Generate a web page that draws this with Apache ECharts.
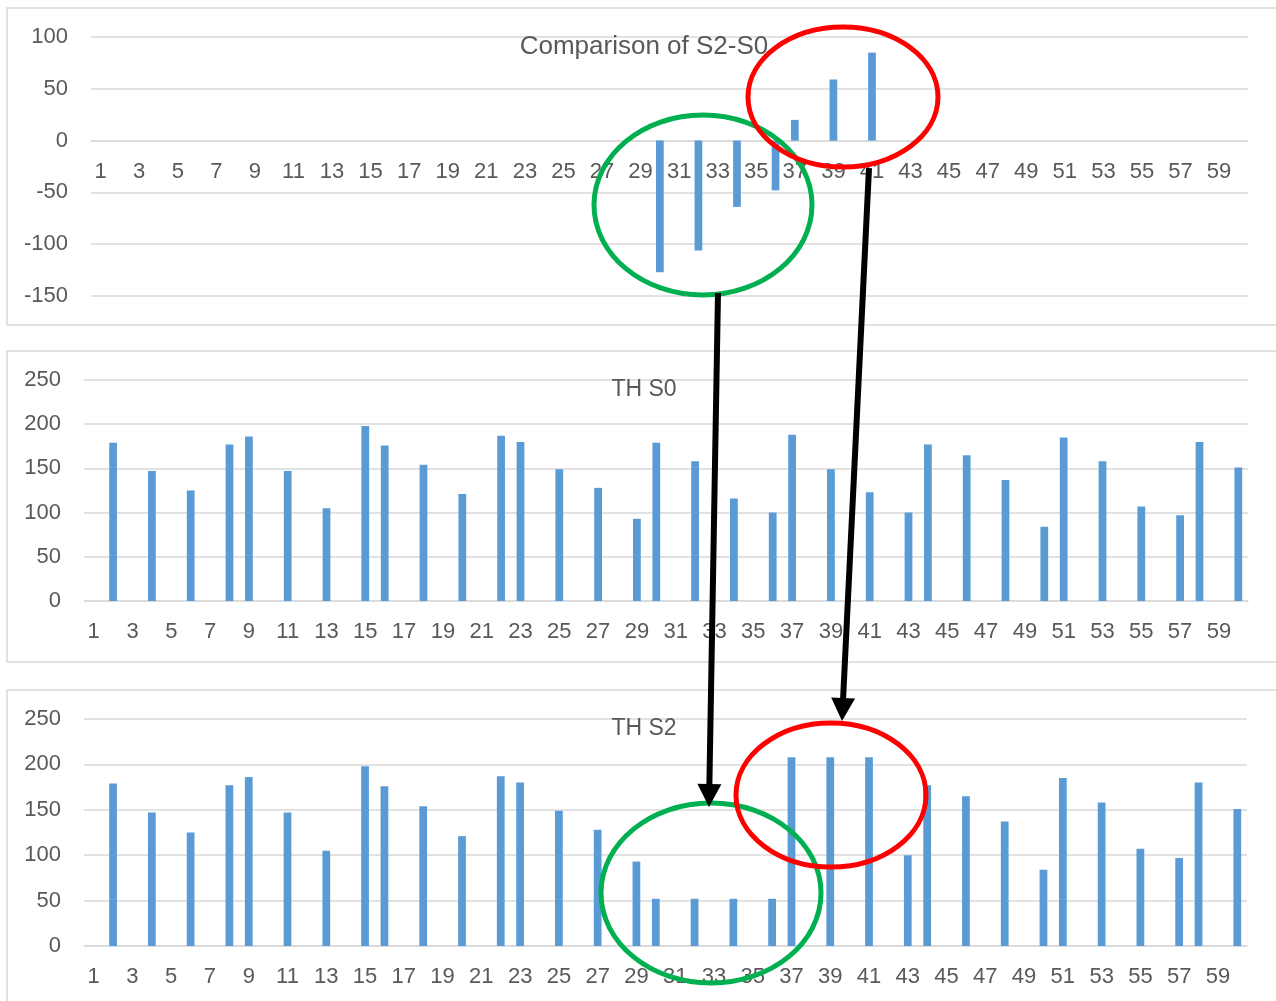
<!DOCTYPE html>
<html>
<head>
<meta charset="utf-8">
<script src="https://cdn.jsdelivr.net/npm/echarts@6/dist/echarts.min.js"></script>
<style>
html,body{margin:0;padding:0;background:#fff;}
#main{width:1276px;height:1001px;}
</style>
</head>
<body>
<div id="main"></div>
<script>
// ---- data ----
var categories = ['1','2','3','4','5','6','7','8','9','10','11','12','13','14','15','16','17','18','19','20',
  '21','22','23','24','25','26','27','28','29','30','31','32','33','34','35','36','37','38','39','40',
  '41','42','43','44','45','46','47','48','49','50','51','52','53','54','55','56','57','58','59','60'];

var diffS2S0 = [null,null,null,null,null,null,null,null,null,null,
  null,null,null,null,null,null,null,null,null,null,
  null,null,null,null,null,null,null,null,null,-127,
  null,-106,null,-64,null,-48,20,null,59,null,
  85,null,null,null,null,null,null,null,null,null,
  null,null,null,null,null,null,null,null,null,null];

var thS0 = [null,179,null,147,null,125,null,177,186,null,
  147,null,105,null,198,176,null,154,null,121,
  null,187,180,null,149,null,128,null,93,179,
  null,158,null,116,null,100,188,null,149,null,
  123,null,100,177,null,165,null,137,null,84,
  185,null,158,null,107,null,97,180,null,151];

var thS2 = [null,179,null,147,null,125,null,177,186,null,
  147,null,105,null,198,176,null,154,null,121,
  null,187,180,null,149,null,128,null,93,52,
  null,52,null,52,null,52,208,null,208,null,
  208,null,100,177,null,165,null,137,null,84,
  185,null,158,null,107,null,97,180,null,151];

var titles = ['Comparison of S2-S0', 'TH S0', 'TH S2'];

// ---- styling ----
var FONT = 'Liberation Sans, Arial, sans-serif';
var TXT = '#595959';
var GRIDC = '#D9D9D9';
var BAR = '#5B9BD5';

var chart = echarts.init(document.getElementById('main'), null, {renderer:'canvas'});

function xAx(i, off){
  return {
    type:'category', gridIndex:i, data:categories,
    offset: off || 0,
    axisTick:{show:false},
    axisLine:{show:true, onZero:false, lineStyle:{color:GRIDC, width:1.5}},
    axisLabel:{interval:1, color:TXT, fontSize:22, fontFamily:FONT, margin:20},
    splitLine:{show:false}
  };
}
function yAx(i, mn, mx){
  return {
    type:'value', gridIndex:i, min:mn, max:mx, interval:50,
    axisLine:{show:false}, axisTick:{show:false},
    axisLabel:{color:TXT, fontSize:22, fontFamily:FONT, margin:23},
    splitLine:{show:true, lineStyle:{color:GRIDC, width:1.5}}
  };
}
function ser(i, d){
  return {
    type:'bar', xAxisIndex:i, yAxisIndex:i, data:d,
    barCategoryGap:'60%', itemStyle:{color:BAR}, silent:true, animation:false
  };
}

// annotation overlay (hand-drawn shapes in the reference)
function arrow(x1,y1,x2,y2){
  var dx=x2-x1, dy=y2-y1, L=Math.sqrt(dx*dx+dy*dy), ux=dx/L, uy=dy/L;
  var hl=23, hw=12;
  var bx=x2-ux*hl, by=y2-uy*hl;
  return [
    {type:'line', z:100, shape:{x1:x1,y1:y1,x2:bx,y2:by}, style:{stroke:'#000', lineWidth:6}},
    {type:'polygon', z:100, shape:{points:[[x2,y2],[bx-uy*hw,by+ux*hw],[bx+uy*hw,by-ux*hw]]}, style:{fill:'#000'}}
  ];
}
function ell(cx,cy,rx,ry,c){
  return {type:'ellipse', z:99, shape:{cx:cx,cy:cy,rx:rx,ry:ry}, style:{fill:null, stroke:c, lineWidth:5}};
}

var graphics = [
  {type:'rect', shape:{x:7,y:8,width:1300,height:317}, style:{fill:null, stroke:GRIDC, lineWidth:1.5}, silent:true},
  {type:'rect', shape:{x:7,y:351,width:1300,height:311}, style:{fill:null, stroke:GRIDC, lineWidth:1.5}, silent:true},
  {type:'rect', shape:{x:7,y:690,width:1300,height:330}, style:{fill:null, stroke:GRIDC, lineWidth:1.5}, silent:true},
  ell(703,205,109,90,'#00B050'),
  ell(843,97,95,70,'#FF0000'),
  ell(711,893,110,90,'#00B050'),
  ell(831,795,95,72,'#FF0000')
].concat(arrow(718,293,709,807)).concat(arrow(869,168,842,721));

var option = {
  backgroundColor:'#fff',
  animation:false,
  title:[
    {text:titles[0], left:644, top:47, textAlign:'center', textVerticalAlign:'middle', padding:0,
     textStyle:{color:TXT, fontSize:26, fontWeight:'normal', fontFamily:FONT}},
    {text:titles[1], left:644, top:390, textAlign:'center', textVerticalAlign:'middle', padding:0,
     textStyle:{color:TXT, fontSize:23, fontWeight:'normal', fontFamily:FONT}},
    {text:titles[2], left:644, top:729, textAlign:'center', textVerticalAlign:'middle', padding:0,
     textStyle:{color:TXT, fontSize:23, fontWeight:'normal', fontFamily:FONT}}
  ],
  grid:[
    {left:91, right:28, top:37, height:259, containLabel:false, outerBoundsMode:'none'},
    {left:84, right:28, top:380, height:221, containLabel:false, outerBoundsMode:'none'},
    {left:84, right:29, top:719, height:227, containLabel:false, outerBoundsMode:'none'}
  ],
  xAxis:[xAx(0, -155.4), xAx(1), xAx(2)],
  yAxis:[yAx(0,-150,100), yAx(1,0,250), yAx(2,0,250)],
  series:[ser(0, diffS2S0), ser(1, thS0), ser(2, thS2)],
  graphic:graphics
};
chart.setOption(option);
</script>
</body>
</html>
